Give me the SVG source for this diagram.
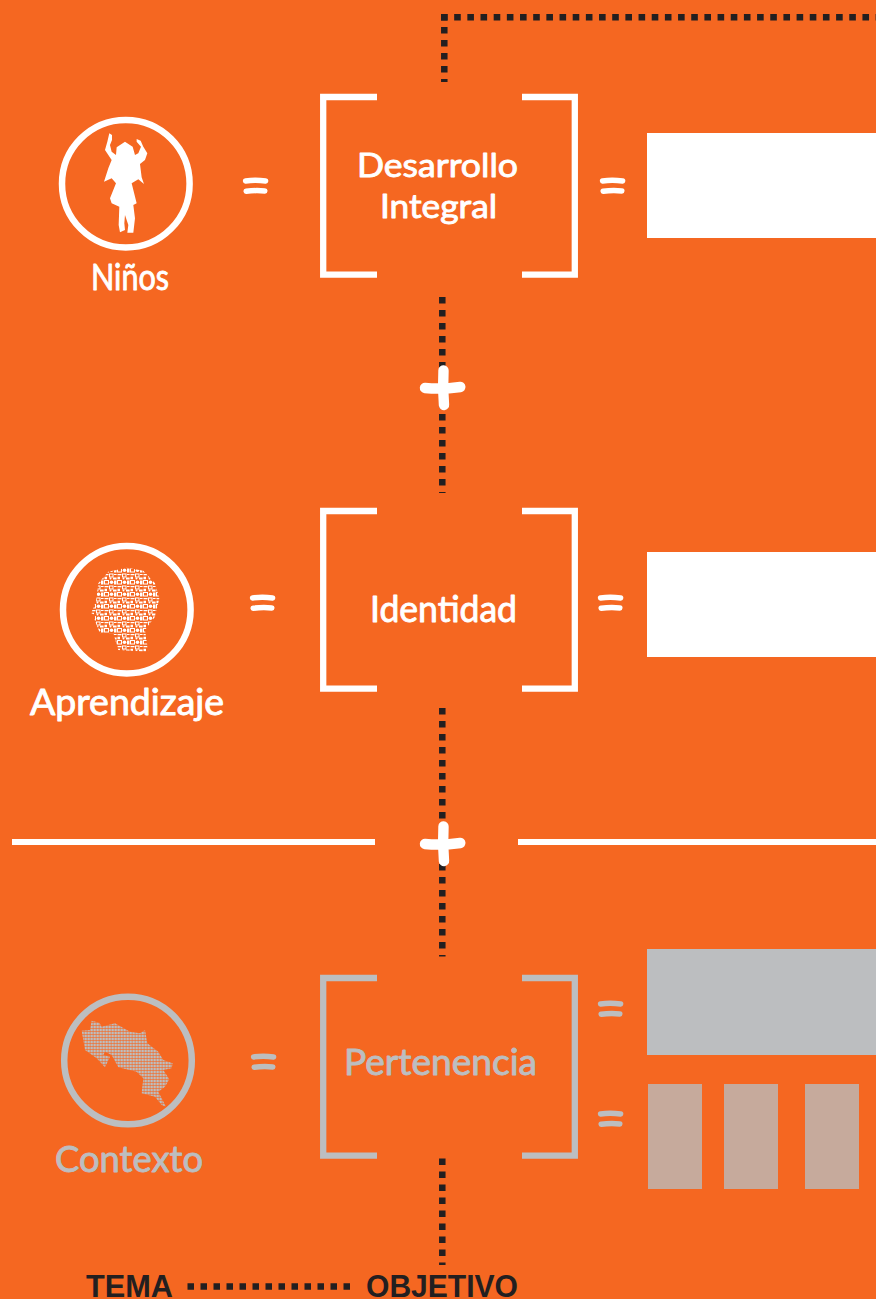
<svg xmlns="http://www.w3.org/2000/svg" width="876" height="1299" viewBox="0 0 876 1299">
<style>
.w{fill:#fff}.g{fill:#bcbec0}
.ws{stroke:#fff}.gs{stroke:#bcbec0}
.ring{fill:none;stroke-width:6.5}
.br{fill:none;stroke-width:6.3}
.eq{fill:none;stroke-width:5.5;stroke-linecap:round}
.dot{fill:none;stroke:#231f20;stroke-width:6.5;stroke-dasharray:6.5 6.5}
.hand{font-family:"Lato","Noto Sans",sans-serif;font-size:36px;stroke-width:.9;stroke-linejoin:round}
.two{font-size:33px}
.hw{fill:#fff;stroke:#fff}.hg{fill:#bcbec0;stroke:#bcbec0}
.lab{font-family:"Liberation Sans",Arial,sans-serif;font-weight:700;font-size:31px;fill:#231f20}
</style>
<defs>
<path id="bracket" d="M377 97H323.2V274.7H377M522 97H574.8V274.7H522"/>
<path id="eq" d="M2.6 2.9Q12 1.7 22.6 2.9M3.2 13.2Q12 12.2 21.8 12.9"/>
<g id="plus" fill="none" stroke="#fff" stroke-width="10.4" stroke-linecap="round"><path d="M443.5 370.5Q442.5 388 444 405"/><path d="M425 388Q442 389.5 460.3 387"/></g>
<pattern id="icons" width="13" height="12" patternUnits="userSpaceOnUse" x="91" y="568">
<rect x=".5" y=".5" width="4" height="3.5" fill="none" stroke="#fff" stroke-width="1"/>
<circle cx="7.5" cy="2.2" r="1.8" fill="#fff"/>
<rect x="10" y=".5" width="2.5" height="4" fill="#fff"/>
<path d="M.5 6h4v1.3h-4zM.5 8.8h2.5v2.5h-2.5z" fill="#fff"/>
<rect x="5.5" y="6" width="3.5" height="3" fill="none" stroke="#fff" stroke-width="1"/>
<circle cx="6.5" cy="10.6" r="1" fill="#fff"/>
<path d="M10 6h2.6v1h-2.6zM9 9.5h3.6v2h-3.6z" fill="#fff"/>
</pattern>
<pattern id="grid" width="9" height="9" patternUnits="userSpaceOnUse" x="125" y="120">
<rect width="7.2" height="7.2" fill="#bcbec0"/>
</pattern>
</defs>
<rect width="876" height="1299" fill="#f56721"/>
<g id="connectors">
<path class="dot" d="M444.3 14V82"/>
<path class="dot" d="M441 17.3H876" style="stroke-dasharray:6.6 6.57"/>
<path class="dot" d="M442.3 297V493"/>
<path class="dot" d="M442.3 708V956.5"/>
<path class="dot" d="M442.3 1158.5V1265"/>
<path class="dot" d="M187.5 1286.4H350"/>
<path fill="none" stroke="#fff" stroke-width="6" d="M12 842H375M518 842H876"/>
</g>
<g id="plus-1"><use href="#plus"/></g>
<g id="plus-2"><use href="#plus" y="456"/></g>
<g id="ninos">
<circle class="ring ws" cx="125.8" cy="183.7" r="63.8"/>
<path class="w" transform="translate(30 90) scale(.3333)" d="M238 130L246 135L246 150L240 165L245 185L258 195L260 172L285 155L308 170L315 195L325 190L333 170L320 155L320 147L332 152L340 170L352 190L345 210L330 222L335 262L342 282L325 268L305 280L320 340L310 345L315 385L310 428L292 428L295 405L285 375L283 400L285 420L270 427L266 405L268 350L245 340L240 325L258 280L245 265L222 275L235 235L245 210L225 180L232 155Z"/>
<text class="hand hw" x="91" y="290" textLength="78" lengthAdjust="spacingAndGlyphs">Niños</text>
<use href="#eq" class="eq ws" x="243" y="178"/>
</g>
<g id="desarrollo-integral">
<use href="#bracket" class="br ws"/>
<text class="hand two hw" x="357" y="177" textLength="161" lengthAdjust="spacingAndGlyphs">Desarrollo</text>
<text class="hand two hw" x="380" y="218" textLength="117" lengthAdjust="spacingAndGlyphs">Integral</text>
<use href="#eq" class="eq ws" x="600" y="178"/>
<rect class="w" x="647" y="133" width="229" height="105"/>
</g>
<g id="aprendizaje">
<circle class="ring ws" cx="126.8" cy="609.7" r="63.8"/>
<path fill="url(#icons)" d="M108.3 571.7L126.7 567.7L143.3 570.7L155 583.3L159.3 598.3L155 616.7L145 630L148.3 651.7L118.3 650L113.3 633.3L100 633.3L97.3 626.7L94 618.3L96 615L91 613.3L96 601.7L98.3 583.3Z"/>
<text class="hand hw" x="30" y="715" textLength="194" lengthAdjust="spacingAndGlyphs">Aprendizaje</text>
<use href="#eq" class="eq ws" x="250" y="595"/>
</g>
<g id="identidad">
<use href="#bracket" class="br ws" y="414"/>
<text class="hand hw" x="370" y="622" textLength="147" lengthAdjust="spacingAndGlyphs">Identidad</text>
<use href="#eq" class="eq ws" x="598" y="595"/>
<rect class="w" x="647" y="552" width="229" height="105"/>
</g>
<g id="contexto">
<circle class="ring gs" cx="128" cy="1060.5" r="63.8"/>
<path fill="url(#grid)" transform="translate(40 980) scale(.3333)" d="M125 152L150 150L155 122L178 128L185 140L225 130L270 155L300 160L315 150L322 190L355 215L370 240L398 250L395 265L370 270L388 298L375 320L355 335L378 380L365 375L345 350L305 340L310 295L290 275L235 262L215 225L195 215L190 225L210 230L195 262L170 235L135 210L130 180Z"/>
<text class="hand hg" x="55" y="1172" textLength="148" lengthAdjust="spacingAndGlyphs">Contexto</text>
<use href="#eq" class="eq gs" x="251" y="1054"/>
</g>
<g id="pertenencia">
<use href="#bracket" class="br gs" y="881"/>
<text class="hand hg" x="344" y="1075" textLength="193" lengthAdjust="spacingAndGlyphs">Pertenencia</text>
<use href="#eq" class="eq gs" x="598" y="1001"/>
<use href="#eq" class="eq gs" x="598" y="1111"/>
<rect class="g" x="647" y="949" width="229" height="106"/>
<rect x="648" y="1084" width="54" height="105" fill="#c6aa9c"/>
<rect x="724" y="1084" width="54" height="105" fill="#c6aa9c"/>
<rect x="805" y="1084" width="54" height="105" fill="#c6aa9c"/>
</g>
<g id="leyenda">
<text class="lab" x="86" y="1296.5" textLength="87" lengthAdjust="spacingAndGlyphs">TEMA</text>
<text class="lab" x="366" y="1296.5" textLength="152" lengthAdjust="spacingAndGlyphs">OBJETIVO</text>
</g>
</svg>
